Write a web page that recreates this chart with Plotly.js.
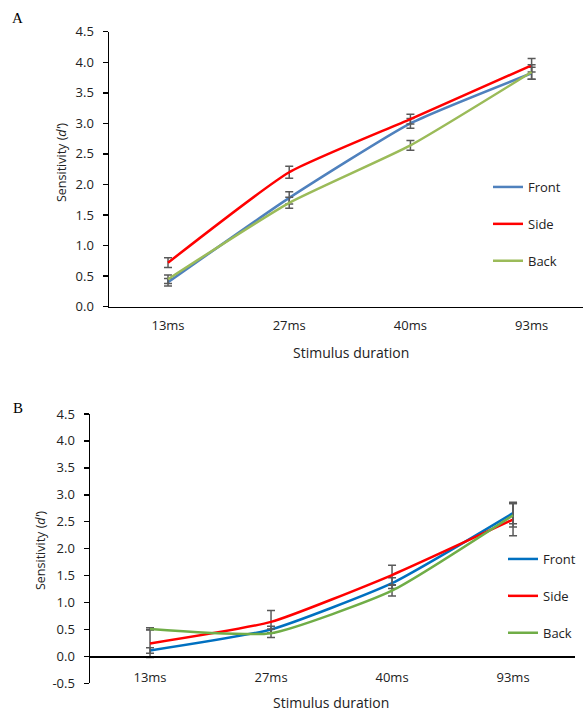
<!DOCTYPE html>
<html>
<head>
<meta charset="utf-8">
<script src="https://cdn.plot.ly/plotly-3.0.1.min.js"></script>
<style>html,body{margin:0;padding:0;background:#fff;}#chart{width:586px;height:711px;}</style>
</head>
<body>
<div id="chart"></div>
<script>
// ---- Data ----
const categories = ['13ms', '27ms', '40ms', '93ms'];
const seriesNames = ['Front', 'Side', 'Back'];

// Panel A
const aFront = [0.40, 1.78, 3.00, 3.82];
const aFrontErr = [0.06, 0.10, 0.08, 0.10];
const aSide = [0.72, 2.20, 3.07, 3.95];
const aSideErr = [0.08, 0.10, 0.08, 0.11];
const aBack = [0.45, 1.70, 2.64, 3.84];
const aBackErr = [0.07, 0.09, 0.08, 0.12];

// Panel B
const bFront = [0.11, 0.50, 1.36, 2.66];
const bFrontErr = [0.05, 0.06, 0.10, 0.20];
const bSide = [0.24, 0.64, 1.51, 2.54];
const bSideErr = [0.26, 0.21, 0.18, 0.30];
const bBack = [0.51, 0.43, 1.22, 2.62];
const bBackErr = [0.02, 0.08, 0.10, 0.22];

// Tick labels
const aTickVals = [0, 0.5, 1, 1.5, 2, 2.5, 3, 3.5, 4, 4.5];
const aTickText = ['0.0', '0.5', '1.0', '1.5', '2.0', '2.5', '3.0', '3.5', '4.0', '4.5'];
const bTickVals = [-0.5, 0, 0.5, 1, 1.5, 2, 2.5, 3, 3.5, 4, 4.5];
const bTickText = ['-0.5', '0.0', '0.5', '1.0', '1.5', '2.0', '2.5', '3.0', '3.5', '4.0', '4.5'];

const colorsA = ['#4F81BD', '#FF0000', '#9BBB59'];
const colorsB = ['#0070C0', '#FF0000', '#70AD47'];

const W = 586, H = 711;
const px = v => v / W;
const py = v => 1 - v / H;

function trace(y, err, name, color, xa, ya, legend) {
  return {
    type: 'scatter', mode: 'lines', x: categories, y: y, name: name,
    xaxis: xa, yaxis: ya, legend: legend, legendgroup: legend + name,
    line: {color: color, width: 2.5, shape: 'spline', smoothing: 0.5},
    error_y: {type: 'data', array: err, visible: true, color: '#595959', thickness: 1.5, width: 4}
  };
}

const data = [
  trace(aFront, aFrontErr, seriesNames[0], colorsA[0], 'x', 'y', 'legend'),
  trace(aSide, aSideErr, seriesNames[1], colorsA[1], 'x', 'y', 'legend'),
  trace(aBack, aBackErr, seriesNames[2], colorsA[2], 'x', 'y', 'legend'),
  trace(bFront, bFrontErr, seriesNames[0], colorsB[0], 'x2', 'y2', 'legend2'),
  trace(bSide, bSideErr, seriesNames[1], colorsB[1], 'x2', 'y2', 'legend2'),
  trace(bBack, bBackErr, seriesNames[2], colorsB[2], 'x2', 'y2', 'legend2')
];

const tickFont = {family: 'Open Sans, sans-serif', size: 13, color: '#222'};
const xTitleFont = {family: 'Open Sans, sans-serif', size: 14, color: '#222'};
const yTitleFont = {family: 'Open Sans, sans-serif', size: 12.5, color: '#222'};

const yCommon = {
  showgrid: false, zeroline: false, showline: true, linecolor: '#000', linewidth: 1.5,
  ticks: 'outside', ticklen: 5, tickcolor: '#000', tickwidth: 1.5, ticklabelstandoff: 6,
  tickmode: 'array', tickfont: tickFont, fixedrange: true
};
const xCommon = {
  type: 'category', showgrid: false, zeroline: false, showline: true, linecolor: '#000', linewidth: 1.5,
  ticks: 'outside', tickcolor: 'rgba(0,0,0,0)', tickfont: tickFont, fixedrange: true
};

const legendCommon = {
  font: {family: 'Open Sans, sans-serif', size: 13, color: '#222'},
  bgcolor: 'rgba(0,0,0,0)', tracegroupgap: 17, itemwidth: 30,
  xanchor: 'left', yanchor: 'top', itemclick: false, itemdoubleclick: false
};

const layout = {
  width: W, height: H,
  margin: {l: 0, r: 0, t: 0, b: 0},
  paper_bgcolor: '#fff', plot_bgcolor: '#fff',
  showlegend: true,
  xaxis: Object.assign({}, xCommon, {domain: [px(109), px(583)], range: [-0.487, 3.424], anchor: 'y', ticklen: 6}),
  yaxis: Object.assign({}, yCommon, {domain: [py(306.7), py(31.7)], range: [0, 4.5], anchor: 'x',
    tickvals: aTickVals, ticktext: aTickText}),
  xaxis2: Object.assign({}, xCommon, {domain: [px(90), px(575)], range: [-0.496, 3.512], anchor: 'free',
    position: py(656), ticklen: 9}),
  yaxis2: Object.assign({}, yCommon, {domain: [py(683.3), py(414)], range: [-0.5, 4.5], anchor: 'x2',
    tickvals: bTickVals, ticktext: bTickText}),
  legend: Object.assign({}, legendCommon, {x: px(488), y: py(172)}),
  legend2: Object.assign({}, legendCommon, {x: px(503), y: py(544)}),
  annotations: [
    {text: 'A', x: px(17), y: py(18), xanchor: 'center', yanchor: 'middle', xref: 'paper', yref: 'paper', showarrow: false,
     font: {family: 'Liberation Serif, serif', size: 15, color: '#000'}},
    {text: 'B', x: px(18), y: py(408), xanchor: 'center', yanchor: 'middle', xref: 'paper', yref: 'paper', showarrow: false,
     font: {family: 'Liberation Serif, serif', size: 15, color: '#000'}},
    {text: 'Stimulus duration', x: px(351), y: py(352.5), xanchor: 'center', yanchor: 'middle', xref: 'paper', yref: 'paper', showarrow: false, font: xTitleFont},
    {text: 'Stimulus duration', x: px(331), y: py(702.5), xanchor: 'center', yanchor: 'middle', xref: 'paper', yref: 'paper', showarrow: false, font: xTitleFont},
    {text: "Sensitivity (<i>d'</i>)", x: px(62), y: py(163), xanchor: 'center', yanchor: 'middle', xref: 'paper', yref: 'paper', showarrow: false, textangle: -90, font: yTitleFont},
    {text: "Sensitivity (<i>d'</i>)", x: px(40), y: py(551), xanchor: 'center', yanchor: 'middle', xref: 'paper', yref: 'paper', showarrow: false, textangle: -90, font: yTitleFont}
  ]
};

Plotly.newPlot('chart', data, layout, {displayModeBar: false, staticPlot: true});
</script>
</body>
</html>
